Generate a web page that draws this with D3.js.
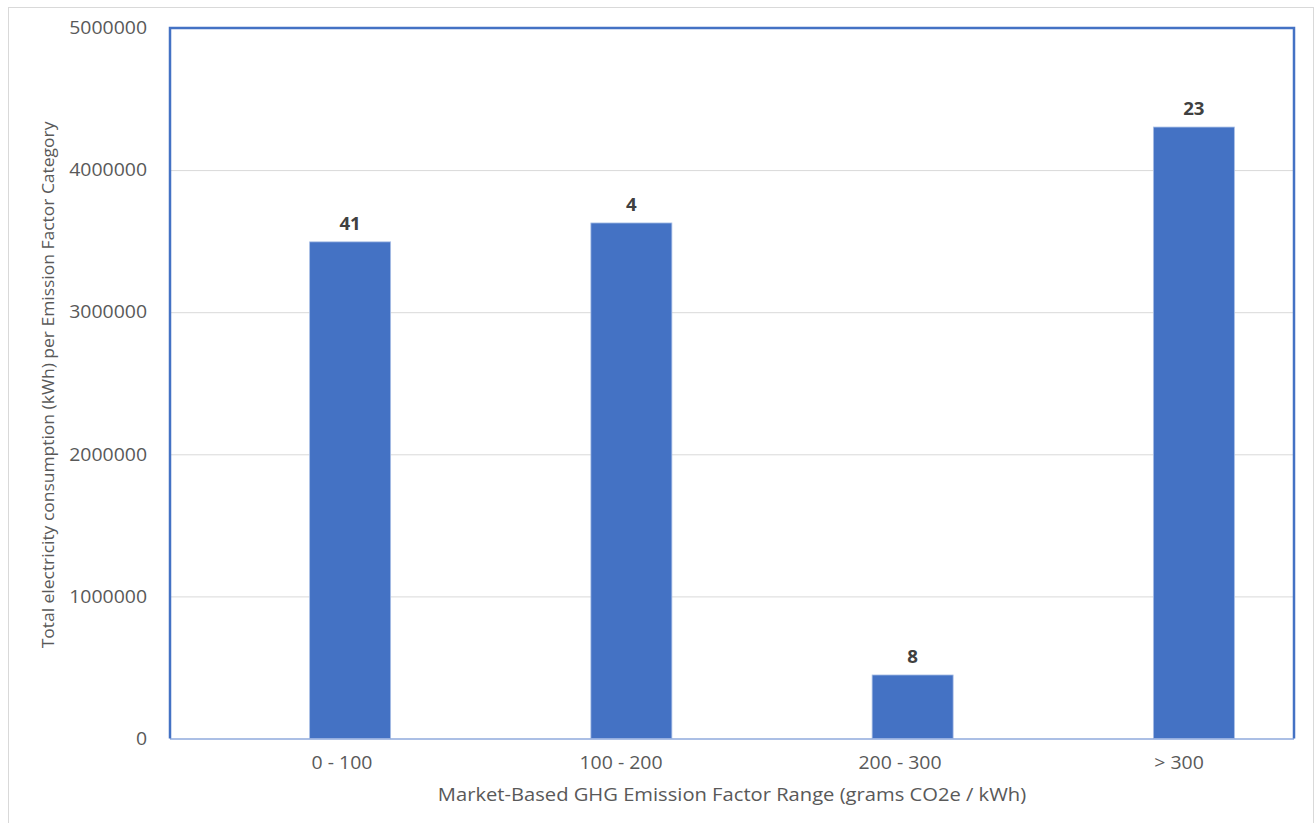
<!DOCTYPE html>
<html>
<head>
<meta charset="utf-8">
<script src="https://cdn.jsdelivr.net/npm/d3@7"></script>
<style>
  body { margin: 0; background: #fff; }
  text { font-family: "Open Sans", sans-serif; }
</style>
</head>
<body>
<div id="chart"></div>
<script>
const categories = ['0 - 100', '100 - 200', '200 - 300', '> 300'];
const consumption = [3495000, 3628000, 447000, 4303000];
const counts = [41, 4, 8, 23];
const yTicks = [0, 1000000, 2000000, 3000000, 4000000, 5000000];

const W = 1315, H = 823;
const margin = {top: 28, right: 21, bottom: 84.5, left: 170};
const width = W - margin.left - margin.right,
  height = H - margin.top - margin.bottom;

// the source text is a bit wider than Open Sans, stretch it
function stretch(sel, k) {
  sel.each(function() {
    const len = this.getComputedTextLength();
    d3.select(this)
      .attr('textLength', len * k)
      .attr('lengthAdjust', 'spacingAndGlyphs');
  });
}

const svg = d3.select('#chart').append('svg')
  .attr('width', W)
  .attr('height', H);

// outer chart frame
svg.append('rect')
  .attr('x', 8.5).attr('y', 7.5)
  .attr('width', 1305).attr('height', 830)
  .attr('fill', 'none')
  .attr('stroke', '#d9d9d9');

const g = svg.append('g')
  .attr('transform', 'translate(' + margin.left + ',' + margin.top + ')');

// bars sit a little right of centre in the source plot
const x = d3.scaleBand()
  .domain(categories)
  .range([39.5, width + 40.5])
  .paddingInner(0.712)
  .paddingOuter(0.356);

// category labels are drawn slightly left of the bars
const xLabel = d3.scalePoint()
  .domain(categories)
  .range([171.5, 1008.5]);

const y = d3.scaleLinear()
  .domain([0, 5000000])
  .range([height, 0]);

// gridlines
g.append('g')
  .selectAll('line')
  .data(yTicks.slice(1))
  .enter().append('line')
  .attr('x1', 0).attr('x2', width)
  .attr('y1', d => y(d) + 0.5).attr('y2', d => y(d) + 0.5)
  .attr('stroke', '#d9d9d9');

// bars
g.selectAll('.bar')
  .data(consumption)
  .enter().append('rect')
  .attr('class', 'bar')
  .attr('x', (d, i) => x(categories[i]))
  .attr('y', d => y(d))
  .attr('width', x.bandwidth())
  .attr('height', d => height - y(d))
  .attr('fill', '#4472c4')
  .attr('stroke', '#a9bfe6')
  .attr('stroke-width', 0.8);

// count labels
g.selectAll('.count')
  .data(counts)
  .enter().append('text')
  .attr('class', 'count')
  .attr('x', (d, i) => x(categories[i]) + x.bandwidth() / 2)
  .attr('y', (d, i) => y(consumption[i]) - 12)
  .attr('text-anchor', 'middle')
  .attr('font-size', 17)
  .attr('font-weight', 'bold')
  .attr('fill', '#404040')
  .text(d => d)
  .call(stretch, 1.1);

// y axis
const yAxis = g.append('g')
  .call(d3.axisLeft(y).tickValues(yTicks).tickFormat(d3.format('d')).tickSize(0).tickPadding(23));
yAxis.select('.domain').remove();
yAxis.selectAll('text')
  .attr('font-family', '"Open Sans", sans-serif')
  .attr('font-size', 18)
  .attr('fill', '#595959')
  .call(stretch, 1.08);

// x axis
const xAxis = g.append('g')
  .attr('transform', 'translate(0,' + height + ')')
  .call(d3.axisBottom(xLabel).tickSize(0).tickPadding(18));
xAxis.select('.domain')
  .attr('d', 'M0,0.5H' + width)
  .attr('stroke', '#8faadc')
  .attr('stroke-width', 1.5);
xAxis.selectAll('text')
  .attr('font-family', '"Open Sans", sans-serif')
  .attr('font-size', 18)
  .attr('fill', '#595959')
  .call(stretch, 1.08);

// plot frame (left, top, right)
g.append('path')
  .attr('d', 'M0,' + height + 'V0H' + width + 'V' + height)
  .attr('fill', 'none')
  .attr('stroke', '#4472c4')
  .attr('stroke-width', 2.5);

// axis titles
svg.append('text')
  .attr('x', 732)
  .attr('y', 801)
  .attr('text-anchor', 'middle')
  .attr('font-size', 18)
  .attr('fill', '#595959')
  .text('Market-Based GHG Emission Factor Range (grams CO2e / kWh)')
  .call(stretch, 1.12);

svg.append('text')
  .attr('transform', 'translate(54,385) rotate(-90)')
  .attr('text-anchor', 'middle')
  .attr('font-size', 16)
  .attr('fill', '#595959')
  .text('Total electricity consumption (kWh) per Emission Factor Category')
  .call(stretch, 1.09);
</script>
</body>
</html>
